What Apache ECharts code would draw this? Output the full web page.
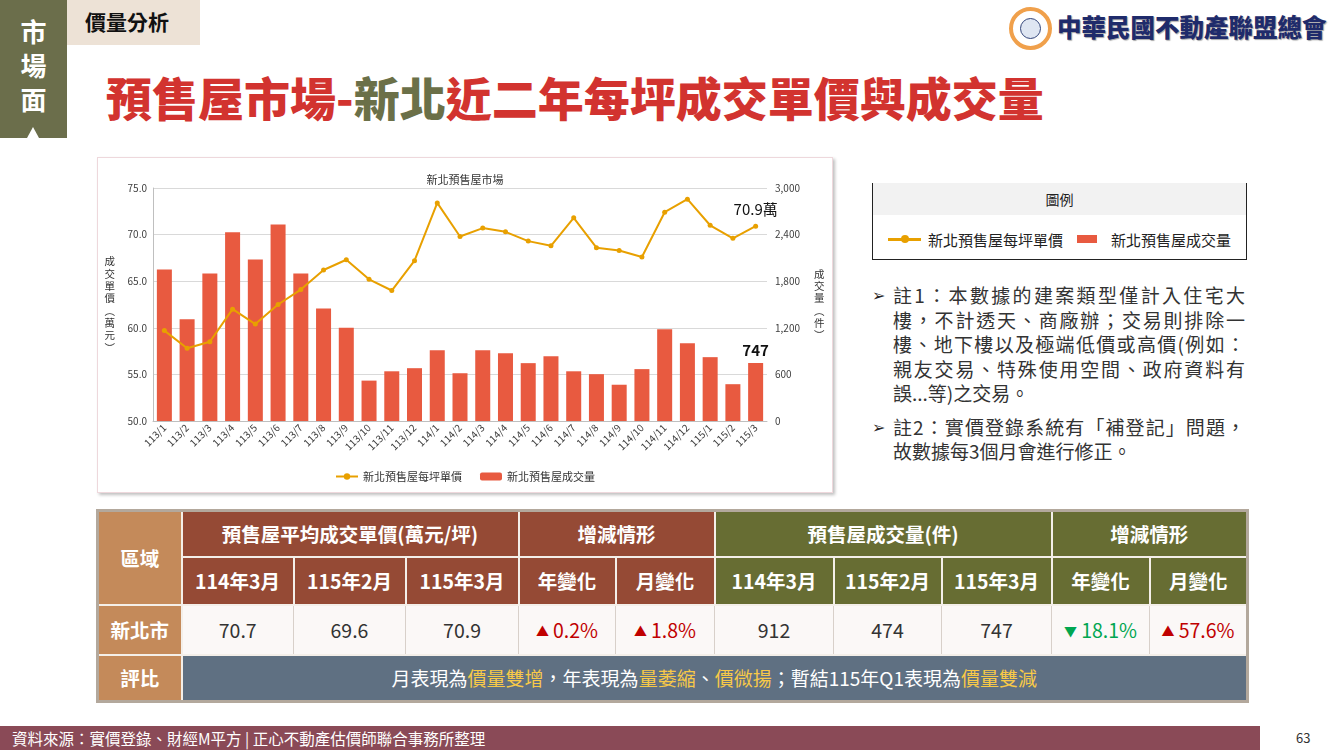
<!DOCTYPE html>
<html>
<head>
<meta charset="utf-8">
<script src="https://cdn.jsdelivr.net/npm/echarts@6/dist/echarts.min.js"></script>
<style>
  html,body{margin:0;padding:0;}
  body{width:1330px;height:750px;position:relative;overflow:hidden;background:#fff;
       font-family:"Noto Sans CJK TC","Noto Sans CJK SC",sans-serif;}
  .abs{position:absolute;}
  #strip{left:0;top:0;width:67px;height:138px;background:#6b6e4b;}
  #strip .t{position:absolute;left:0;width:67px;top:14px;text-align:center;color:#fff;font-size:26px;font-weight:700;line-height:34px;}
  #strip .tri{position:absolute;left:27px;top:127px;width:0;height:0;border-left:6px solid transparent;border-right:6px solid transparent;border-bottom:11px solid #fff;}
  #tag{left:67px;top:0;width:133px;height:45px;background:#ede2d6;}
  #tag span{position:absolute;left:18px;top:7px;font-size:21px;font-weight:700;color:#111;line-height:28px;}
  #title{left:106px;top:67px;font-size:46px;font-weight:900;color:#d2332f;line-height:58px;white-space:nowrap;letter-spacing:0px;}
  #title .g{color:#6b7048;}
  #logo{left:1009px;top:7px;width:43px;height:43px;border-radius:50%;background:#fff;border:4px solid #f0a04b;box-sizing:border-box;}
  #logo .in{position:absolute;left:7px;top:7px;width:21px;height:21px;border-radius:50%;background:#dfe6f2;border:1px solid #33457a;box-sizing:border-box;}
  #logotext{left:1057px;top:10px;font-size:24.5px;font-weight:900;color:#1f2b6b;white-space:nowrap;line-height:34px;text-shadow:1px 1px 1px rgba(0,0,0,0.35);letter-spacing:0px;}
  #chartbox{left:97px;top:157px;width:736px;height:336px;background:#fff;border:1px solid #eed8dc;box-sizing:border-box;box-shadow:2px 2px 3px rgba(0,0,0,0.25);}
  #chart{position:absolute;left:0;top:0;width:734px;height:334px;}
  #legbox{left:872px;top:183px;width:375px;height:77px;border:1.5px solid #222;border-top:none;box-sizing:border-box;}
  #legbox .hd{position:absolute;left:0;top:0;right:0;height:32px;background:#f2f2f2;text-align:center;font-size:14px;line-height:32px;color:#222;}
  #legbox .it{position:absolute;top:47px;font-size:15px;line-height:20px;color:#222;white-space:nowrap;}
  #notes{left:872px;top:283px;width:375px;color:#333;font-size:19px;line-height:24.5px;}
  #notes .note{position:relative;padding-left:21px;margin-bottom:9px;}
  #notes .bul{position:absolute;left:0;top:1px;font-size:16px;color:#222;font-family:"DejaVu Sans",sans-serif;}
  #notes .ln{display:block;text-align:justify;text-align-last:justify;white-space:nowrap;width:352px;}
  #notes .ln.l{text-align-last:left;}
  table#tb{position:absolute;left:96px;top:509px;width:1150px;border-collapse:collapse;table-layout:fixed;border:3px solid #b3a89c;}
  #tb td{text-align:center;padding:0;box-sizing:border-box;}
  #tb .h{color:#fff;font-weight:700;font-size:19.5px;border:2px solid #f4efe9;}
  #tb .area{background:#c48a5a;}
  #tb .pr{background:#954a35;}
  #tb .vo{background:#676d33;}
  #tb .d{background:#fbf8f7;color:#333;font-size:19.5px;border:1px solid #d8d0ca;}
  #tb .up{color:#c00000;}
  #tb .dn{color:#00a651;}
  #tb .tri{font-size:13px;position:relative;top:-2px;margin-right:4px;}
  #tb .cm{background:#5f7082;color:#fff;font-size:19px;border:2px solid #f4efe9;}
  #tb .y{color:#f7c948;}
  #footer{left:0;top:726px;width:1260px;height:24px;background:#8a4a57;}
  #footer span{position:absolute;left:12px;top:0;line-height:24px;font-size:15.5px;color:#fff;white-space:nowrap;}
  #page{left:1296px;top:727px;font-size:13px;color:#333;line-height:22px;}
</style>
</head>
<body>
<div id="strip" class="abs"><div class="t">市<br>場<br>面</div><div class="tri"></div></div>
<div id="tag" class="abs"><span>價量分析</span></div>
<div id="title" class="abs">預售屋市場-<span class="g">新北</span>近二年每坪成交單價與成交量</div>
<div id="logo" class="abs"><div class="in"></div></div>
<div id="logotext" class="abs">中華民國不動產聯盟總會</div>

<div id="chartbox" class="abs"><div id="chart"></div></div>

<div id="legbox" class="abs">
  <div class="hd">圖例</div>
  <div class="abs" style="left:15px;top:55px;width:33px;height:3px;background:#e8a000;"></div>
  <div class="abs" style="left:28px;top:52px;width:8px;height:8px;border-radius:50%;background:#e8a000;"></div>
  <div class="it" style="left:55px;">新北預售屋每坪單價</div>
  <div class="abs" style="left:204px;top:52px;width:20px;height:8px;background:#e85a40;"></div>
  <div class="it" style="left:238px;">新北預售屋成交量</div>
</div>

<div id="notes" class="abs">
  <div class="note"><span class="bul">➢</span>
    <span class="ln">註1：本數據的建案類型僅計入住宅大</span>
    <span class="ln">樓，不計透天、商廠辦；交易則排除一</span>
    <span class="ln">樓、地下樓以及極端低價或高價(例如：</span>
    <span class="ln">親友交易、特殊使用空間、政府資料有</span>
    <span class="ln l">誤...等)之交易。</span>
  </div>
  <div class="note"><span class="bul">➢</span>
    <span class="ln">註2：實價登錄系統有「補登記」問題，</span>
    <span class="ln l">故數據每3個月會進行修正。</span>
  </div>
</div>

<table id="tb">
  <colgroup>
    <col style="width:84px"><col style="width:112px"><col style="width:112px"><col style="width:113px">
    <col style="width:97px"><col style="width:99px"><col style="width:119px"><col style="width:108px">
    <col style="width:110px"><col style="width:98px"><col style="width:98px">
  </colgroup>
  <tr style="height:46px">
    <td class="h area" rowspan="2">區域</td>
    <td class="h pr" colspan="3">預售屋平均成交單價(萬元/坪)</td>
    <td class="h pr" colspan="2">增減情形</td>
    <td class="h vo" colspan="3">預售屋成交量(件)</td>
    <td class="h vo" colspan="2">增減情形</td>
  </tr>
  <tr style="height:48px" id="hdr2"></tr>
  <tr style="height:50px" id="row1"></tr>
  <tr style="height:47px">
    <td class="h area" style="background:#c48a5a;">評比</td>
    <td class="cm" colspan="10">月表現為<span class="y">價量雙增</span>，年表現為<span class="y">量萎縮</span>、<span class="y">價微揚</span>；暫結115年Q1表現為<span class="y">價量雙減</span></td>
  </tr>
</table>

<div id="footer" class="abs"><span>資料來源：實價登錄、財經M平方 | 正心不動產估價師聯合事務所整理</span></div>
<div id="page" class="abs">63</div>

<script>
// ---- chart data ----
const categories = ['113/1','113/2','113/3','113/4','113/5','113/6','113/7','113/8','113/9','113/10','113/11','113/12',
                    '114/1','114/2','114/3','114/4','114/5','114/6','114/7','114/8','114/9','114/10','114/11','114/12',
                    '115/1','115/2','115/3'];
const priceValues = [59.7,57.8,58.5,62.0,60.4,62.5,64.1,66.2,67.3,65.2,64.0,67.2,
                     73.4,69.8,70.7,70.3,69.3,68.8,71.8,68.6,68.3,67.6,72.4,73.8,
                     71.0,69.6,70.9];
const volumeValues = [1950,1310,1900,2430,2080,2530,1900,1450,1200,520,640,680,
                      910,615,912,873,745,835,640,603,467,668,1180,1000,
                      822,474,747];
const priceTicks = {min:50, max:75, interval:5};
const volumeTicks = {min:0, max:3000, interval:600};
const seriesNames = ['新北預售屋每坪單價','新北預售屋成交量'];

// ---- table data ----
const periodLabels = ['114年3月','115年2月','115年3月'];
const changeLabels = ['年變化','月變化'];
const regionName = '新北市';
const tablePrice = ['70.7','69.6','70.9'];
const tablePriceChange = [['up','0.2%'],['up','1.8%']];
const tableVolume = ['912','474','747'];
const tableVolumeChange = [['dn','18.1%'],['up','57.6%']];

// build table rows
(function(){
  const h2 = document.getElementById('hdr2');
  let s = '';
  periodLabels.forEach(p => s += '<td class="h pr">'+p+'</td>');
  changeLabels.forEach(p => s += '<td class="h pr">'+p+'</td>');
  periodLabels.forEach(p => s += '<td class="h vo">'+p+'</td>');
  changeLabels.forEach(p => s += '<td class="h vo">'+p+'</td>');
  h2.innerHTML = s;
  const r = document.getElementById('row1');
  const chg = c => '<td class="d '+c[0]+'"><span class="tri">'+(c[0]==='up'?'▲':'▼')+'</span>'+c[1]+'</td>';
  s = '<td class="h area">'+regionName+'</td>';
  tablePrice.forEach(v => s += '<td class="d">'+v+'</td>');
  tablePriceChange.forEach(c => s += chg(c));
  tableVolume.forEach(v => s += '<td class="d">'+v+'</td>');
  tableVolumeChange.forEach(c => s += chg(c));
  r.innerHTML = s;
})();

const last = categories.length - 1;
const lineData = priceValues.map((v,i) => i === last ? {value:v, label:{show:true, position:'top', distance:7, formatter:'{c}萬', fontSize:15, color:'#111'}} : v);
const barData = volumeValues.map((v,i) => i === last ? {value:v, label:{show:true, position:'top', distance:5, fontSize:15, fontWeight:'bold', color:'#111'}} : v);

const chart = echarts.init(document.getElementById('chart'), null, {renderer:'canvas'});
const ff = '"Noto Sans CJK TC","Noto Sans CJK SC",sans-serif';
chart.setOption({
  animation:false,
  textStyle:{fontFamily:ff},
  title:{text:'新北預售屋市場', left:'center', top:11, textStyle:{fontSize:11, fontWeight:'normal', color:'#333', fontFamily:ff}},
  grid:{left:55, right:65, top:30, bottom:71, containLabel:false},
  legend:{data:seriesNames, bottom:5, left:'center', itemWidth:22, itemHeight:8, itemGap:18,
          textStyle:{fontSize:11, color:'#333', fontFamily:ff}},
  xAxis:{type:'category', data:categories,
         axisTick:{show:false},
         axisLine:{lineStyle:{color:'#bfbfbf'}},
         axisLabel:{rotate:45, interval:0, fontSize:10, color:'#404040', margin:5}},
  yAxis:[
    {type:'value', min:priceTicks.min, max:priceTicks.max, interval:priceTicks.interval,
     axisLabel:{formatter:v => v.toFixed(1), fontSize:10, color:'#404040', margin:6},
     axisLine:{show:true, lineStyle:{color:'#bfbfbf'}},
     axisTick:{show:false},
     splitLine:{lineStyle:{color:'#d9d9d9'}},
     name:'成\n交\n單\n價\n︵\n萬\n元\n︶', nameLocation:'middle', nameRotate:0, nameGap:38,
     nameTextStyle:{fontSize:10.5, lineHeight:12.3, color:'#333', fontFamily:ff}},
    {type:'value', min:volumeTicks.min, max:volumeTicks.max, interval:volumeTicks.interval, position:'right',
     axisLabel:{formatter:v => v.toLocaleString('en-US'), fontSize:10, color:'#404040', margin:8},
     axisLine:{show:false}, axisTick:{show:false},
     splitLine:{show:false},
     name:'成\n交\n量\n︵\n件\n︶', nameLocation:'middle', nameRotate:0, nameGap:47,
     nameTextStyle:{fontSize:10.5, lineHeight:12.3, color:'#333', fontFamily:ff}}
  ],
  series:[
    {name:seriesNames[1], type:'bar', yAxisIndex:1, data:barData, barWidth:'66%',
     itemStyle:{color:'#e85a40'}, z:1},
    {name:seriesNames[0], type:'line', yAxisIndex:0, data:lineData, symbol:'circle', symbolSize:5,
     lineStyle:{width:2, color:'#e8a000'}, itemStyle:{color:'#e8a000'}, z:3}
  ]
});
</script>
</body>
</html>
